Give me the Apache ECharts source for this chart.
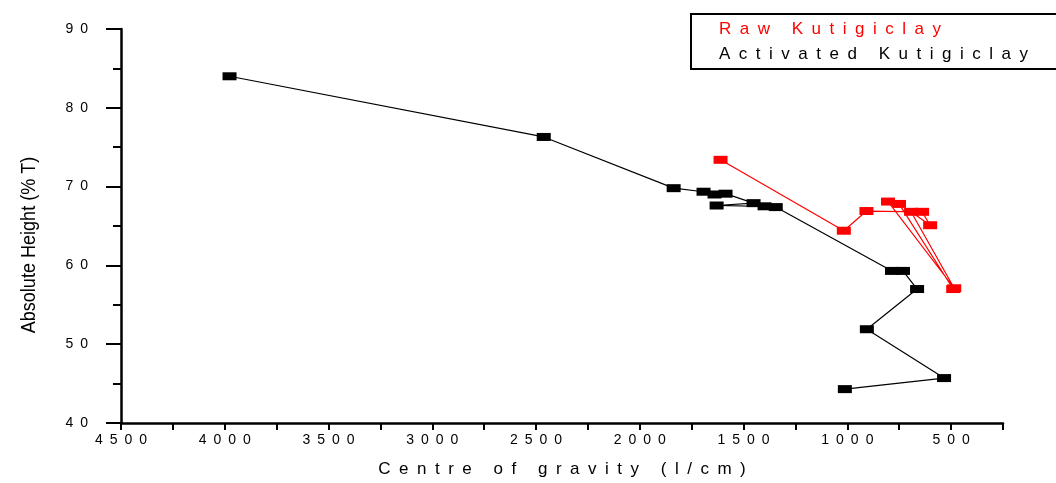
<!DOCTYPE html>
<html>
<head>
<meta charset="utf-8">
<script src="https://cdn.jsdelivr.net/npm/echarts@6/dist/echarts.min.js"></script>
<style>
html,body{margin:0;padding:0;background:#fff;}
#chart{width:1056px;height:483px;}
</style>
</head>
<body>
<div id="chart"></div>
<script>
// Data
const seriesNames = ['Raw Kutigiclay', 'Activated Kutigiclay'];
const rawX = [1611, 1017, 908, 640, 601, 693, 485, 804, 751, 490];
const rawY = [73.4, 64.4, 66.9, 66.8, 65.1, 66.8, 57.1, 68.1, 67.8, 57.0];
const actX = [3977, 2463, 1837, 1693, 1640, 1587, 1452, 1630, 1399, 1345, 785, 732, 664, 906, 534, 1012];
const actY = [84.0, 76.3, 69.8, 69.35, 69.0, 69.1, 67.9, 67.6, 67.5, 67.4, 59.3, 59.3, 57.0, 51.9, 45.7, 44.3];
const xTickValues = [4500, 4000, 3500, 3000, 2500, 2000, 1500, 1000, 500];
const yTickValues = [40, 50, 60, 70, 80, 90];
const xTitle = 'Centre of gravity (l/cm)';
const yTitle = 'Absolute Height (% T)';

const SP = '\u2002';
function spaced(s) {
  return String(s).split(' ').map(w => w.split('').join(SP)).join(SP + ' ' + SP);
}
const pair = (xs, ys) => xs.map((x, i) => [x, ys[i]]);

const chart = echarts.init(document.getElementById('chart'), null, {renderer: 'canvas'});
const axisFont = "'Liberation Sans', Arial, sans-serif";

chart.setOption({
  animation: false,
  backgroundColor: '#fff',
  grid: {left: 121, right: 53, top: 29, bottom: 60, containLabel: false},
  legend: {
    orient: 'vertical',
    left: 691, top: 14,
    itemWidth: 0, itemHeight: 0, itemGap: 4,
    padding: [5, 40, 4, 23],
    borderColor: '#000', borderWidth: 2,
    data: [
      {name: seriesNames[0], icon: 'none', textStyle: {color: '#ff0000'}},
      {name: seriesNames[1], icon: 'none', textStyle: {color: '#000'}}
    ],
    formatter: n => spaced(n),
    textStyle: {fontFamily: axisFont, fontSize: 17, lineHeight: 21}
  },
  graphic: [{
    type: 'text',
    x: 29, y: 245,
    rotation: Math.PI / 2,
    scaleX: 0.86,
    style: {
      text: yTitle, fill: '#000',
      font: "21px 'Liberation Sans', Arial, sans-serif",
      align: 'center', verticalAlign: 'middle'
    }
  }],
  xAxis: {
    type: 'value', inverse: true, min: 250, max: 4500, interval: 250,
    name: spaced(xTitle),
    nameLocation: 'middle', nameGap: 38,
    nameTextStyle: {fontFamily: axisFont, fontSize: 17, color: '#000'},
    axisLine: {lineStyle: {color: '#000', width: 2.5}},
    axisTick: {show: true, inside: false, length: 7, lineStyle: {color: '#000', width: 2}},
    axisLabel: {
      color: '#000', fontFamily: axisFont, fontSize: 14, margin: 10,
      formatter: v => xTickValues.indexOf(v) >= 0 ? spaced(v) : ''
    },
    splitLine: {show: false}
  },
  yAxis: {
    type: 'value', min: 40, max: 90, interval: 10,
    axisLine: {show: true, lineStyle: {color: '#000', width: 2.5}},
    axisTick: {show: true, inside: false, length: 15, lineStyle: {color: '#000', width: 2}},
    minorTick: {show: true, splitNumber: 2, length: 8, lineStyle: {color: '#000', width: 2}},
    axisLabel: {
      color: '#000', fontFamily: axisFont, fontSize: 14, margin: 33,
      formatter: v => yTickValues.indexOf(v) >= 0 ? spaced(v) : ''
    },
    splitLine: {show: false}
  },
  series: [
    {
      name: seriesNames[0], type: 'line', data: pair(rawX, rawY),
      symbol: 'rect', symbolSize: [14, 8],
      itemStyle: {color: '#ff0000'},
      lineStyle: {color: '#ff0000', width: 1.2},
      z: 3
    },
    {
      name: seriesNames[1], type: 'line', data: pair(actX, actY),
      symbol: 'rect', symbolSize: [14, 8],
      itemStyle: {color: '#000'},
      lineStyle: {color: '#000', width: 1.2},
      z: 2
    }
  ]
});
</script>
</body>
</html>
